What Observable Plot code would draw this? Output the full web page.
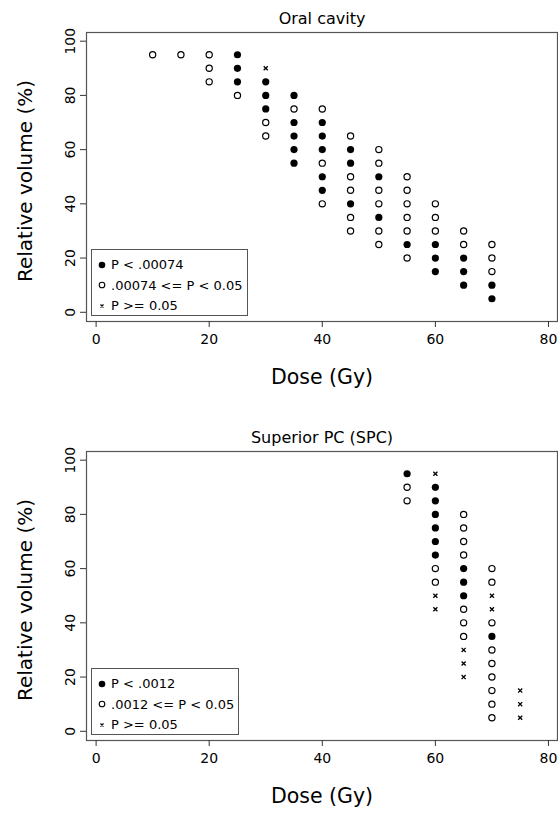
<!DOCTYPE html>
<html>
<head>
<meta charset="utf-8">
<script src="https://cdn.jsdelivr.net/npm/d3@7"></script>
<script src="https://cdn.jsdelivr.net/npm/@observablehq/plot@0.6"></script>
<style>
  body { margin: 0; background: white; font-family: "DejaVu Sans", sans-serif; }
  .panel { position: relative; width: 558px; }
  .legend { position: absolute; border: 1px solid #555; background: white; box-sizing: border-box; }
  .legend .row { position: absolute; left: 0; height: 20px; display: flex; align-items: center; font-size: 13px; white-space: nowrap; }
  .legend svg { margin-left: 5px; margin-right: 4px; }
</style>
</head>
<body>
<div class="panel" id="p1"></div>
<div class="panel" id="p2"></div>
<script>
// ---- data ----
const doseTicks = [0, 20, 40, 60, 80];
const volumeTicks = [0, 20, 40, 60, 80, 100];

// [dose (Gy), relative volume (%), significance level]
// levels: "strong" = filled, "mid" = open circle, "ns" = cross
const oralPoints = [
  [10, 95, "mid"],
  [15, 95, "mid"],
  [20, 95, "mid"], [20, 90, "mid"], [20, 85, "mid"],
  [25, 95, "strong"], [25, 90, "strong"], [25, 85, "strong"], [25, 80, "mid"],
  [30, 90, "ns"], [30, 85, "strong"], [30, 80, "strong"], [30, 75, "strong"], [30, 70, "mid"], [30, 65, "mid"],
  [35, 80, "strong"], [35, 75, "mid"], [35, 70, "strong"], [35, 65, "strong"], [35, 60, "strong"], [35, 55, "strong"],
  [40, 75, "mid"], [40, 70, "strong"], [40, 65, "strong"], [40, 60, "strong"], [40, 55, "mid"], [40, 50, "strong"], [40, 45, "strong"], [40, 40, "mid"],
  [45, 65, "mid"], [45, 60, "strong"], [45, 55, "strong"], [45, 50, "mid"], [45, 45, "mid"], [45, 40, "strong"], [45, 35, "mid"], [45, 30, "mid"],
  [50, 60, "mid"], [50, 55, "mid"], [50, 50, "strong"], [50, 45, "mid"], [50, 40, "mid"], [50, 35, "strong"], [50, 30, "mid"], [50, 25, "mid"],
  [55, 50, "mid"], [55, 45, "mid"], [55, 40, "mid"], [55, 35, "mid"], [55, 30, "mid"], [55, 25, "strong"], [55, 20, "mid"],
  [60, 40, "mid"], [60, 35, "mid"], [60, 30, "mid"], [60, 25, "strong"], [60, 20, "strong"], [60, 15, "strong"],
  [65, 30, "mid"], [65, 25, "mid"], [65, 20, "strong"], [65, 15, "strong"], [65, 10, "strong"],
  [70, 25, "mid"], [70, 20, "mid"], [70, 15, "mid"], [70, 10, "strong"], [70, 5, "strong"]
];

const spcPoints = [
  [55, 95, "strong"], [55, 90, "mid"], [55, 85, "mid"],
  [60, 95, "ns"], [60, 90, "strong"], [60, 85, "strong"], [60, 80, "strong"], [60, 75, "strong"], [60, 70, "strong"], [60, 65, "strong"], [60, 60, "mid"], [60, 55, "mid"], [60, 50, "ns"], [60, 45, "ns"],
  [65, 80, "mid"], [65, 75, "mid"], [65, 70, "mid"], [65, 65, "mid"], [65, 60, "strong"], [65, 55, "strong"], [65, 50, "strong"], [65, 45, "mid"], [65, 40, "mid"], [65, 35, "mid"], [65, 30, "ns"], [65, 25, "ns"], [65, 20, "ns"],
  [70, 60, "mid"], [70, 55, "mid"], [70, 50, "ns"], [70, 45, "ns"], [70, 40, "mid"], [70, 35, "strong"], [70, 30, "mid"], [70, 25, "mid"], [70, 20, "mid"], [70, 15, "mid"], [70, 10, "mid"], [70, 5, "mid"],
  [75, 15, "ns"], [75, 10, "ns"], [75, 5, "ns"]
];

const oralTitle = "Oral cavity";
const spcTitle = "Superior PC (SPC)";
const oralLegend = ["P < .00074", ".00074 <= P < 0.05", "P >= 0.05"];
const spcLegend = ["P < .0012", ".0012 <= P < 0.05", "P >= 0.05"];
const xLabel = "Dose (Gy)";
const yLabel = "Relative volume (%)";

// ---- drawing ----
function panel(points, title, height, marginBottom) {
  const byLevel = lvl => points.filter(d => d[2] === lvl);
  return Plot.plot({
    width: 558,
    height,
    marginLeft: 86,
    marginRight: 1,
    marginTop: 32,
    marginBottom,
    x: {domain: [-1.7, 81.6]},
    y: {domain: [-3.4, 103.2]},
    style: {fontFamily: "DejaVu Sans, sans-serif", fontSize: "14px", background: "white", color: "black", overflow: "visible"},
    marks: [
      Plot.frame({stroke: "#555", strokeWidth: 1.2}),
      Plot.axisX({ticks: doseTicks, tickSize: 6, tickPadding: 7, label: null, stroke: "#333"}),
      Plot.axisY({ticks: volumeTicks, tickSize: 6, tickRotate: -90, tickPadding: 6, label: null, stroke: "#333"}),
      Plot.dot(byLevel("mid"), {x: d => d[0], y: d => d[1], r: 3.1, stroke: "black", strokeWidth: 1.2, fill: "white"}),
      Plot.dot(byLevel("strong"), {x: d => d[0], y: d => d[1], r: 3.6, fill: "black", stroke: "none"}),
      Plot.dot(byLevel("ns"), {x: d => d[0], y: d => d[1], symbol: "times", r: 2, stroke: "black", strokeWidth: 1.3}),
      Plot.text([title], {text: d => d, frameAnchor: "top", lineAnchor: "middle", dy: -14, fontSize: 16}),
      Plot.text([xLabel], {text: d => d, frameAnchor: "bottom", lineAnchor: "middle", dy: 56, fontSize: 20.5}),
      Plot.text([yLabel], {text: d => d, frameAnchor: "left", textAnchor: "middle", lineAnchor: "middle", dx: -61, dy: 4, rotate: -90, fontSize: 20})
    ]
  });
}

function symbolSvg(kind) {
  const ns = "http://www.w3.org/2000/svg";
  const svg = document.createElementNS(ns, "svg");
  svg.setAttribute("width", 10); svg.setAttribute("height", 10);
  if (kind === "ns") {
    const p = document.createElementNS(ns, "path");
    p.setAttribute("d", "M3.5,3.5L6.5,6.5M6.5,3.5L3.5,6.5");
    p.setAttribute("stroke", "black"); p.setAttribute("stroke-width", 1.2);
    svg.appendChild(p);
  } else {
    const c = document.createElementNS(ns, "circle");
    c.setAttribute("cx", 5); c.setAttribute("cy", 5);
    c.setAttribute("r", kind === "strong" ? 3.3 : 2.8);
    c.setAttribute("fill", kind === "strong" ? "black" : "white");
    c.setAttribute("stroke", kind === "strong" ? "none" : "black");
    c.setAttribute("stroke-width", 1.1);
    svg.appendChild(c);
  }
  return svg;
}

function legend(labels, width) {
  const kinds = ["strong", "mid", "ns"];
  const div = document.createElement("div");
  div.className = "legend";
  Object.assign(div.style, {left: "91px", top: "249px", width: width + "px", height: "67px"});
  labels.forEach((lab, i) => {
    const row = document.createElement("div");
    row.className = "row";
    row.style.top = (4.5 + i * 20.5) + "px";
    row.appendChild(symbolSvg(kinds[i]));
    const span = document.createElement("span");
    span.textContent = lab;
    row.appendChild(span);
    div.appendChild(row);
  });
  return div;
}

const p1 = document.getElementById("p1");
p1.style.height = "419px";
p1.appendChild(panel(oralPoints, oralTitle, 419, 98));
p1.appendChild(legend(oralLegend, 157));

const p2 = document.getElementById("p2");
p2.style.height = "396px";
p2.appendChild(panel(spcPoints, spcTitle, 396, 75));
p2.appendChild(legend(spcLegend, 148));
</script>
</body>
</html>
